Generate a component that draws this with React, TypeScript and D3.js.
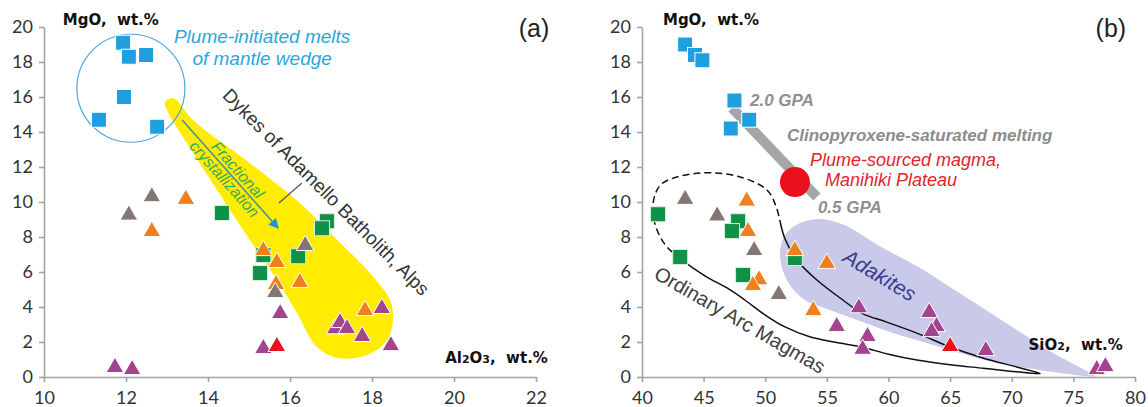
import React, { useRef, useEffect } from 'react';
import * as d3 from 'd3';

type Pt = [number, number];

// ---------- shared ----------
const yTicks = [0, 2, 4, 6, 8, 10, 12, 14, 16, 18, 20];

// ---------- panel (a): Al2O3 vs MgO ----------
const aXTicks = [10, 12, 14, 16, 18, 20, 22];
const aBlueSquares: Pt[] = [[11.93, 19.1], [12.07, 18.3], [12.49, 18.4], [11.95, 16.0], [11.34, 14.7], [12.76, 14.3]];
const aGreenSquares: Pt[] = [[14.34, 9.37], [15.35, 6.97], [15.27, 5.94], [16.9, 8.9], [16.78, 8.5], [16.2, 6.9]];
const aOrangeTriangles: Pt[] = [[13.46, 10.3], [12.63, 8.46], [15.35, 7.37], [15.68, 6.69], [15.66, 5.43], [16.24, 5.54], [17.83, 3.94]];
const aGrayTriangles: Pt[] = [[12.07, 9.4], [12.63, 10.45], [15.64, 4.97], [16.37, 7.66]];
const aPurpleTriangles: Pt[] = [[11.73, 0.69], [12.15, 0.57], [15.35, 1.77], [15.76, 3.77], [17.1, 2.9], [17.22, 3.26], [17.39, 2.91], [17.76, 2.46], [18.24, 4.06], [18.46, 1.94]];
const aRedTriangles: Pt[] = [[15.68, 1.89]];
// outline of the yellow "Dykes of Adamello" field
const aDykesField: Pt[] = [
  [12.95, 15.71], [13.15, 15.94], [13.63, 14.69], [15.02, 12.23], [16.24, 9.94], [17.15, 7.83],
  [17.95, 5.94], [18.44, 4.4], [18.51, 3.26], [18.37, 2.11], [17.88, 1.26], [17.15, 1.09],
  [16.66, 1.71], [16.17, 3.66], [15.68, 5.54], [15.02, 7.83], [14.22, 10.69], [13.39, 13.71], [13.0, 15.26],
];
const aPlumeCentre: Pt = [12.12, 16.5];
const aFracArrow: Pt[] = [[13.37, 14.69], [15.71, 8.51]];
const aDykesLeader: Pt[] = [[15.73, 9.94], [16.29, 11.09]];

// ---------- panel (b): SiO2 vs MgO ----------
const bXTicks = [40, 45, 50, 55, 60, 65, 70, 75, 80];
const bBlueSquares: Pt[] = [[43.5, 19.0], [44.3, 18.4], [44.9, 18.1], [47.5, 15.8], [48.7, 14.7], [47.2, 14.2]];
const bGreenSquares: Pt[] = [[41.3, 9.3], [43.1, 6.86], [47.8, 8.9], [47.3, 8.34], [48.2, 5.83], [52.4, 6.8]];
const bOrangeTriangles: Pt[] = [[48.5, 10.2], [48.6, 8.46], [49.5, 5.7], [49.0, 5.37], [52.4, 7.37], [55.0, 6.63], [53.9, 3.94]];
const bGrayTriangles: Pt[] = [[43.5, 10.3], [46.1, 9.35], [49.1, 7.37], [51.1, 4.86]];
const bPurpleTriangles: Pt[] = [[57.6, 4.1], [55.8, 3.03], [58.3, 2.46], [57.9, 1.73], [63.3, 3.83], [63.9, 3.03], [63.5, 2.74], [67.9, 1.66], [76.9, 0.57], [77.6, 0.74]];
const bRedTriangles: Pt[] = [[65.0, 1.89]];
const bPlumeMagma: Pt = [52.41, 11.14];
const bCpxMelting: Pt[] = [[47.3, 15.37], [54.19, 10.29]];
// adakite field
const bAdakites: Pt[] = [
  [51.19, 6.97], [51.6, 8.11], [52.65, 8.74], [54.27, 9.03], [56.22, 8.74], [59.55, 7.37], [62.3, 6.34],
  [64.98, 5.14], [67.66, 3.94], [70.41, 2.69], [73.09, 1.49], [75.77, 0.46], [76.74, 0.06],
  [73.9, 0.23], [71.22, 0.51], [68.47, 0.86], [65.79, 1.37], [63.11, 1.94], [60.36, 2.51],
  [57.92, 3.14], [55.25, 3.83], [53.22, 4.4], [51.84, 5.43],
];
// ordinary arc magma envelope: solid part and dashed part
const bArcSolid: Pt[] = [
  [51.2, 8.9], [51.6, 7.9], [52.57, 6.69], [54.19, 5.54], [56.3, 4.4], [57.9, 3.62], [59.8, 3.15],
  [62.3, 2.51], [65.0, 1.71], [67.66, 1.09], [70.41, 0.57], [72.3, 0.2],
  [70.4, 0.3], [67.7, 0.5], [65.0, 0.7], [62.3, 0.97], [60.0, 1.3], [57.9, 1.7], [55.8, 1.97],
  [53.6, 2.3], [51.6, 2.86], [50.0, 3.54], [48.35, 4.4], [46.9, 5.09], [45.27, 5.71], [43.89, 6.35],
];
const bArcDashed: Pt[] = [
  [43.89, 6.35], [42.03, 7.43], [41.22, 8.4], [40.89, 9.37], [41.05, 10.4], [41.7, 11.09],
  [44.7, 11.66], [47.95, 11.43], [50.14, 10.69], [50.85, 9.8], [51.2, 8.9],
];

const AXIS = '#a3a3a3';
const TICK_FONT = 'Lato, "DejaVu Sans", sans-serif';
const TITLE_FONT = '"DejaVu Sans", sans-serif';
const ARIAL = '"Liberation Sans", Arial, sans-serif';

const COL = {
  blue: '#1f9fe0',
  green: '#0f9147',
  orange: '#f07f1c',
  gray: '#827772',
  purple: '#a3448e',
  red: '#e8121c',
};

const App: React.FC = () => {
  const svgRef = useRef<SVGSVGElement>(null);

  useEffect(() => {
    if (!svgRef.current) return;
    const svg = d3.select(svgRef.current);
    svg.selectAll('*').remove();

    const yScale = d3.scaleLinear().domain([0, 20]).range([377, 27]);
    const xA = d3.scaleLinear().domain([10, 22]).range([44, 536]);
    const xB = d3.scaleLinear().domain([40, 80]).range([642, 1135]);

    const drawAxes = (x: d3.ScaleLinear<number, number>, xTicks: number[]) => {
      const gx = svg.append('g')
        .attr('transform', `translate(0,${yScale(0)})`)
        .call(d3.axisBottom(x).tickValues(xTicks).tickSize(5).tickSizeOuter(0).tickPadding(9));
      const gy = svg.append('g')
        .attr('transform', `translate(${x.range()[0]},0)`)
        .call(d3.axisLeft(yScale).tickValues(yTicks).tickSize(5).tickSizeOuter(0).tickPadding(6));
      [gx, gy].forEach(g => {
        g.select('.domain').attr('stroke', AXIS).attr('stroke-width', 1.6);
        g.selectAll('.tick line').attr('stroke', AXIS).attr('stroke-width', 1.6);
        g.selectAll('.tick text')
          .attr('fill', '#333')
          .style('font-size', '18px')
          .style('font-family', TICK_FONT);
      });
    };

    const squares = (data: Pt[], x: d3.ScaleLinear<number, number>, fill: string, stroke: string) => {
      svg.append('g').selectAll('rect').data(data).join('rect')
        .attr('x', d => x(d[0]) - 7.5)
        .attr('y', d => yScale(d[1]) - 7.5)
        .attr('width', 15)
        .attr('height', 15)
        .attr('fill', fill)
        .attr('stroke', stroke)
        .attr('stroke-width', 1);
    };

    const tri = d3.symbol().type(d3.symbolTriangle).size(135);
    const triangles = (data: Pt[], x: d3.ScaleLinear<number, number>, fill: string) => {
      svg.append('g').selectAll('path').data(data).join('path')
        .attr('d', tri as any)
        .attr('transform', d => `translate(${x(d[0])},${yScale(d[1]) + 2.5})`)
        .attr('fill', fill)
        .attr('stroke', '#fff')
        .attr('stroke-width', 1);
    };

    const label = (
      x: number, y: number, txt: string,
      opts: { size: number; fill: string; font?: string; weight?: string; style?: string; anchor?: string; rotate?: number; baseline?: string }
    ) => {
      return svg.append('text')
        .attr('transform', `translate(${x},${y}) rotate(${opts.rotate ?? 0})`)
        .attr('text-anchor', opts.anchor ?? 'start')
        .attr('dominant-baseline', opts.baseline ?? 'alphabetic')
        .style('font-family', opts.font ?? ARIAL)
        .style('font-size', `${opts.size}px`)
        .style('font-weight', opts.weight ?? 'normal')
        .style('font-style', opts.style ?? 'normal')
        .style('white-space', 'pre')
        .attr('fill', opts.fill)
        .text(txt);
    };

    // ================= panel (a) =================
    const lineA = d3.line<Pt>().x(d => xA(d[0])).y(d => yScale(d[1]));

    svg.append('path')
      .datum(aDykesField)
      .attr('d', lineA.curve(d3.curveCatmullRomClosed.alpha(0.5)))
      .attr('fill', '#ffec00');

    drawAxes(xA, aXTicks);

    // plume circle
    svg.append('circle')
      .attr('cx', xA(aPlumeCentre[0]))
      .attr('cy', yScale(aPlumeCentre[1]))
      .attr('r', 54)
      .attr('fill', 'none')
      .attr('stroke', '#4ea3da')
      .attr('stroke-width', 1.2);

    // fractional crystallization arrow
    const defs = svg.append('defs');
    defs.append('marker')
      .attr('id', 'arrowBlue')
      .attr('viewBox', '0 0 10 10')
      .attr('refX', 9)
      .attr('refY', 5)
      .attr('markerWidth', 12)
      .attr('markerHeight', 10)
      .attr('markerUnits', 'userSpaceOnUse')
      .attr('orient', 'auto')
      .append('path')
      .attr('d', 'M0,0 L10,5 L0,10 Z')
      .attr('fill', '#1f8fd6');

    svg.append('path')
      .datum(aFracArrow)
      .attr('d', d3.line<Pt>().x(d => xA(d[0])).y(d => yScale(d[1])))
      .attr('stroke', '#3f8f96')
      .attr('stroke-width', 1.5)
      .attr('fill', 'none')
      .attr('marker-end', 'url(#arrowBlue)');

    svg.append('path')
      .datum(aDykesLeader)
      .attr('d', d3.line<Pt>().x(d => xA(d[0])).y(d => yScale(d[1])))
      .attr('stroke', '#555')
      .attr('stroke-width', 1.2)
      .attr('fill', 'none');

    squares(aBlueSquares, xA, COL.blue, '#ffffff');
    squares(aGreenSquares, xA, COL.green, '#d8f0d8');
    triangles(aOrangeTriangles, xA, COL.orange);
    triangles(aGrayTriangles, xA, COL.gray);
    triangles(aPurpleTriangles, xA, COL.purple);
    triangles(aRedTriangles, xA, COL.red);

    // labels (a)
    label(xA(10.46), yScale(20.11), 'MgO,  wt.%', { size: 15, fill: '#111', font: TITLE_FONT, weight: 'bold' });
    const al = svg.append('text')
      .attr('x', xA(22.29)).attr('y', yScale(0.8))
      .attr('text-anchor', 'end')
      .style('font-family', TITLE_FONT).style('font-size', '15px').style('font-weight', 'bold')
      .style('white-space', 'pre')
      .attr('fill', '#111');
    al.append('tspan').text('Al');
    al.append('tspan').style('font-size', '11px').text('2');
    al.append('tspan').text('O');
    al.append('tspan').style('font-size', '11px').text('3');
    al.append('tspan').text(',  wt.%');

    label(xA(21.95), yScale(19.43), '(a)', { size: 25, fill: '#222', anchor: 'middle' });
    label(xA(15.32), yScale(19.09), 'Plume-initiated melts', { size: 19, fill: '#2aa6df', style: 'italic', anchor: 'middle' });
    label(xA(15.32), yScale(17.83), 'of mantle wedge', { size: 19, fill: '#2aa6df', style: 'italic', anchor: 'middle' });
    label(xA(16.88), yScale(10.57), 'Dykes of Adamello Batholith, Alps', { size: 19, fill: '#333', anchor: 'middle', rotate: 45, baseline: 'central' });

    // text along the arrow
    const ax0 = xA(aFracArrow[0][0]), ay0 = yScale(aFracArrow[0][1]);
    const ax1 = xA(aFracArrow[1][0]), ay1 = yScale(aFracArrow[1][1]);
    const ang = (Math.atan2(ay1 - ay0, ax1 - ax0) * 180) / Math.PI;
    const fg = svg.append('g').attr('transform', `translate(${(ax0 + ax1) / 2},${(ay0 + ay1) / 2}) rotate(${ang})`);
    fg.append('text').attr('x', 2).attr('y', -3).attr('text-anchor', 'middle')
      .style('font-family', ARIAL).style('font-size', '16px').style('font-style', 'italic')
      .attr('fill', '#3aaa5c').text('Fractional');
    fg.append('text').attr('x', 0).attr('y', 13).attr('text-anchor', 'middle')
      .style('font-family', ARIAL).style('font-size', '16px').style('font-style', 'italic')
      .attr('fill', '#3aaa5c').text('crystallization');

    // ================= panel (b) =================
    const lineB = d3.line<Pt>().x(d => xB(d[0])).y(d => yScale(d[1]));

    svg.append('path')
      .datum(bAdakites)
      .attr('d', lineB.curve(d3.curveCatmullRomClosed.alpha(0.5)))
      .attr('fill', '#c9c9e9');

    drawAxes(xB, bXTicks);

    const openLine = d3.line<Pt>().x(d => xB(d[0])).y(d => yScale(d[1])).curve(d3.curveCatmullRom.alpha(0.5));
    svg.append('path')
      .datum(bArcSolid)
      .attr('d', openLine)
      .attr('fill', 'none')
      .attr('stroke', '#111')
      .attr('stroke-width', 1.5);
    svg.append('path')
      .datum(bArcDashed)
      .attr('d', openLine)
      .attr('fill', 'none')
      .attr('stroke', '#111')
      .attr('stroke-width', 1.5)
      .attr('stroke-dasharray', '7,4');

    // clinopyroxene-saturated melting band
    svg.append('path')
      .datum(bCpxMelting)
      .attr('d', d3.line<Pt>().x(d => xB(d[0])).y(d => yScale(d[1])))
      .attr('stroke', '#a6a6a6')
      .attr('stroke-width', 10)
      .attr('fill', 'none');

    squares(bBlueSquares, xB, COL.blue, '#ffffff');
    squares(bGreenSquares, xB, COL.green, '#d8f0d8');
    triangles(bOrangeTriangles, xB, COL.orange);
    triangles(bGrayTriangles, xB, COL.gray);
    triangles(bPurpleTriangles, xB, COL.purple);
    triangles(bRedTriangles, xB, COL.red);

    svg.append('circle')
      .attr('cx', xB(bPlumeMagma[0]))
      .attr('cy', yScale(bPlumeMagma[1]))
      .attr('r', 15)
      .attr('fill', '#e8101a');

    // labels (b)
    label(xB(41.7), yScale(20.11), 'MgO,  wt.%', { size: 15, fill: '#111', font: TITLE_FONT, weight: 'bold' });
    const si = svg.append('text')
      .attr('x', xB(79.01)).attr('y', yScale(1.54))
      .attr('text-anchor', 'end')
      .style('font-family', TITLE_FONT).style('font-size', '15px').style('font-weight', 'bold')
      .style('white-space', 'pre')
      .attr('fill', '#111');
    si.append('tspan').text('SiO');
    si.append('tspan').style('font-size', '11px').text('2');
    si.append('tspan').text(',  wt.%');

    label(xB(78.04), yScale(19.43), '(b)', { size: 25, fill: '#222', anchor: 'middle' });
    label(xB(48.76), yScale(15.49), '2.0 GPA', { size: 17, fill: '#8f8f8f', style: 'italic', weight: 'bold' });
    label(xB(54.27), yScale(9.37), '0.5 GPA', { size: 17, fill: '#8f8f8f', style: 'italic', weight: 'bold' });
    label(xB(51.76), yScale(13.49), 'Clinopyroxene-saturated melting', { size: 17, fill: '#8c8c8c', style: 'italic', weight: 'bold' });
    label(xB(53.63), yScale(12.06), 'Plume-sourced magma,', { size: 18, fill: '#e3222a', style: 'italic' });
    label(xB(54.85), yScale(10.91), 'Manihiki Plateau', { size: 18, fill: '#e3222a', style: 'italic' });
    label(xB(59.3), yScale(5.83), 'Adakites', { size: 21, fill: '#3b3b8f', style: 'italic', anchor: 'middle', rotate: 31, baseline: 'central' });
    label(xB(47.95), yScale(3.26), 'Ordinary Arc Magmas', { size: 20, fill: '#404040', anchor: 'middle', rotate: 30, baseline: 'central' });
  }, []);

  return (
    <svg
      ref={svgRef}
      width={1148}
      height={407}
      style={{ position: 'absolute', left: 0, top: 0, background: '#fff' }}
    ></svg>
  );
};

export default App;
